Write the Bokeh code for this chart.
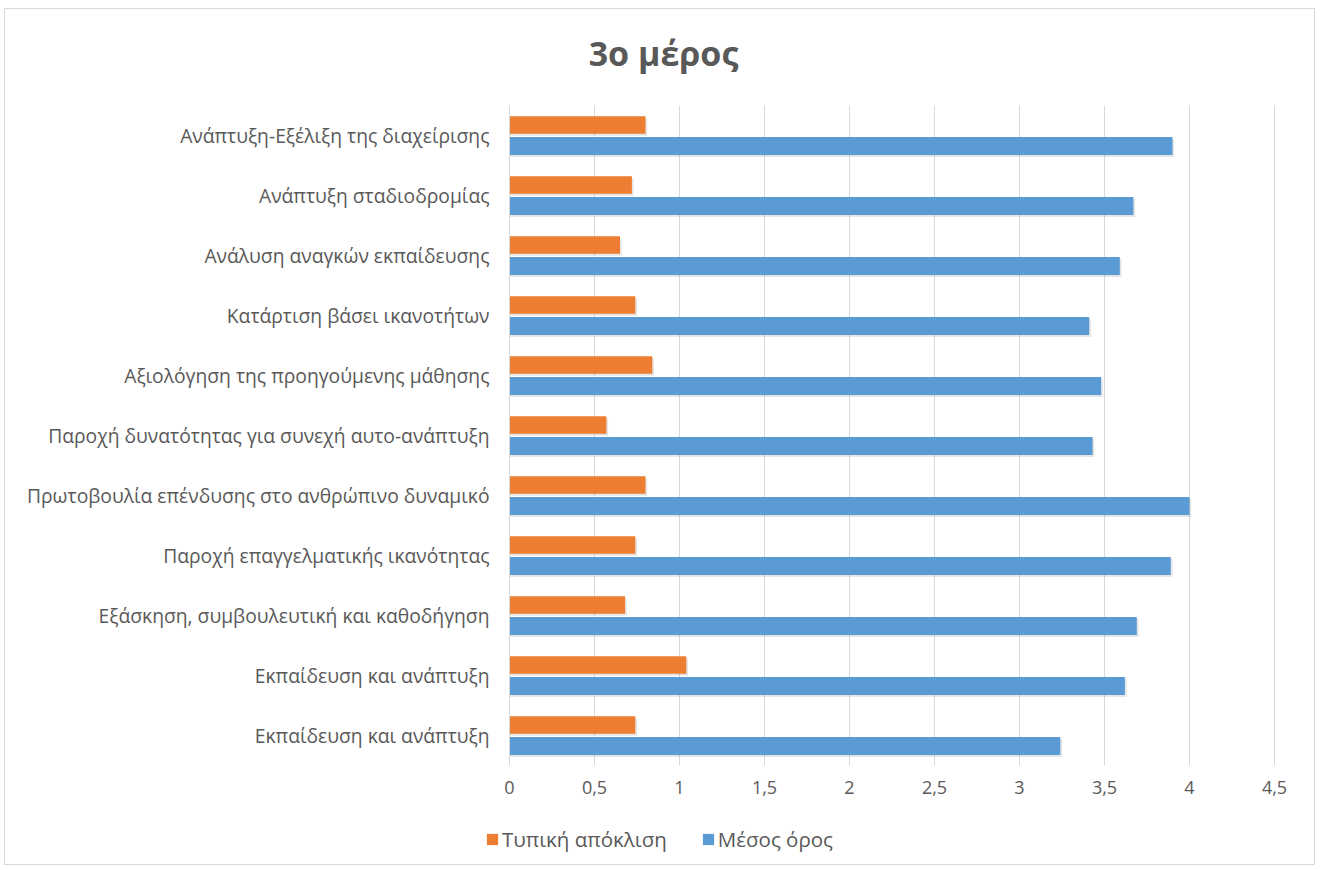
from bokeh.plotting import figure
from bokeh.models import FixedTicker, Label, Legend, LegendItem, ColumnDataSource
from bokeh.embed import file_html
from bokeh.resources import INLINE

categories = [
    "Ανάπτυξη-Εξέλιξη της διαχείρισης",
    "Ανάπτυξη σταδιοδρομίας",
    "Ανάλυση αναγκών εκπαίδευσης",
    "Κατάρτιση βάσει ικανοτήτων",
    "Αξιολόγηση της προηγούμενης μάθησης",
    "Παροχή δυνατότητας για συνεχή αυτο-ανάπτυξη",
    "Πρωτοβουλία επένδυσης στο ανθρώπινο δυναμικό",
    "Παροχή επαγγελματικής ικανότητας",
    "Εξάσκηση, συμβουλευτική και καθοδήγηση",
    "Εκπαίδευση και ανάπτυξη",
    "Εκπαίδευση και ανάπτυξη",
]
mean_values = [3.90, 3.67, 3.59, 3.41, 3.48, 3.43, 4.00, 3.89, 3.69, 3.62, 3.24]
std_values = [0.80, 0.72, 0.65, 0.74, 0.84, 0.57, 0.80, 0.74, 0.68, 1.04, 0.74]
x_ticks = [0, 0.5, 1, 1.5, 2, 2.5, 3, 3.5, 4, 4.5]
x_tick_labels = ["0", "0,5", "1", "1,5", "2", "2,5", "3", "3,5", "4", "4,5"]
series_names = ["Τυπική απόκλιση", "Μέσος όρος"]
title_text = "3ο μέρος"

FONT = "Open Sans"
TXT = "#595959"
ORANGE = "#ED7D31"
BLUE = "#5B9BD5"
GRID = "#D9D9D9"

W, H = 1311, 857                    # canvas size
PLOT_L, PLOT_R = 504, 1269          # pixel extent of value axis 0 .. 4.5
PLOT_T, PLOT_B = 96, 756            # pixel extent of category band area
XMAX = x_ticks[-1]
n = len(categories)

px_per_x = (PLOT_R - PLOT_L) / XMAX
px_per_y = (PLOT_B - PLOT_T) / n
x_start = -PLOT_L / px_per_x
x_end = XMAX + (W - PLOT_R) / px_per_x
y_start = -0.5 - (H - PLOT_B) / px_per_y
y_end = n - 0.5 + PLOT_T / px_per_y

ypos = [n - 1 - i for i in range(n)]
src = ColumnDataSource(dict(
    y=ypos,
    y_std=[v + 0.175 for v in ypos],
    y_mean=[v - 0.175 for v in ypos],
    y_std_sh=[v + 0.175 - 0.035 for v in ypos],
    y_mean_sh=[v - 0.175 - 0.035 for v in ypos],
    mean=mean_values,
    std=std_values,
    mean_sh=[m + 0.01 for m in mean_values],
    std_sh=[s + 0.01 for s in std_values],
))

p = figure(width=W, height=H, x_range=(x_start, x_end), y_range=(y_start, y_end),
           output_backend="svg", toolbar_location=None, min_border=0)
p.title.visible = False
p.margin = (8, 0, 0, 4)
p.styles = {"border": "1px solid #d9d9d9"}
p.outline_line_color = None
p.background_fill_color = "white"
p.border_fill_color = "white"

# vertical gridlines restricted to the category band area
p.xgrid.visible = False
p.ygrid.visible = False
p.segment(x0=x_ticks[1:], x1=x_ticks[1:], y0=[-0.5] * (len(x_ticks) - 1),
          y1=[n - 0.5] * (len(x_ticks) - 1), line_color=GRID, line_width=1)

# soft shadows
p.hbar(y="y_std_sh", right="std_sh", left=0, height=0.29, source=src,
       fill_color="black", fill_alpha=0.10, line_color=None)
p.hbar(y="y_mean_sh", right="mean_sh", left=0, height=0.3, source=src,
       fill_color="black", fill_alpha=0.10, line_color=None)

r_std = p.hbar(y="y_std", right="std", left=0, height=0.29, source=src,
               fill_color=ORANGE, line_color=None)
r_mean = p.hbar(y="y_mean", right="mean", left=0, height=0.3, source=src,
                fill_color=BLUE, line_color=None)

# x axis (fixed at the bottom of the band area)
xa = p.xaxis[0]
xa.fixed_location = -0.5
xa.bounds = (0, XMAX)
xa.ticker = FixedTicker(ticks=x_ticks)
xa.major_label_overrides = {t: l for t, l in zip(x_ticks, x_tick_labels)}
xa.axis_line_color = None
xa.major_tick_line_color = None
xa.minor_tick_line_color = None
xa.major_tick_out = 0
xa.major_tick_in = 0
xa.major_label_standoff = 15
xa.major_label_text_font = FONT
xa.major_label_text_font_size = "18px"
xa.major_label_text_color = TXT

# y axis (fixed at x = 0)
ya = p.yaxis[0]
ya.fixed_location = 0
ya.bounds = (-0.5, n - 0.5)
ya.ticker = FixedTicker(ticks=ypos)
ya.major_label_overrides = {y: c for y, c in zip(ypos, categories)}
ya.axis_line_color = GRID
ya.major_tick_line_color = None
ya.minor_tick_line_color = None
ya.major_tick_out = 0
ya.major_tick_in = 0
ya.major_label_standoff = 20
ya.major_label_text_font = FONT
ya.major_label_text_font_size = "19.3px"
ya.major_label_text_color = TXT

# title
p.add_layout(Label(x=658, y=H - 43, x_units="screen", y_units="screen", text=title_text,
                   text_align="center", text_baseline="middle", text_font=FONT,
                   text_font_size="34px", text_font_style="bold", text_color=TXT))

legend = Legend(items=[LegendItem(label=series_names[0], renderers=[r_std]),
                       LegendItem(label=series_names[1], renderers=[r_mean])],
                orientation="horizontal", location=(480, 13),
                glyph_width=14, glyph_height=14, label_standoff=3, spacing=34,
                padding=0, margin=0, border_line_color=None, background_fill_alpha=0,
                label_text_font=FONT, label_text_font_size="20.5px", label_text_color=TXT,
                label_height=20)
p.add_layout(legend, "center")

open("out.html", "w").write(file_html(p, INLINE))
